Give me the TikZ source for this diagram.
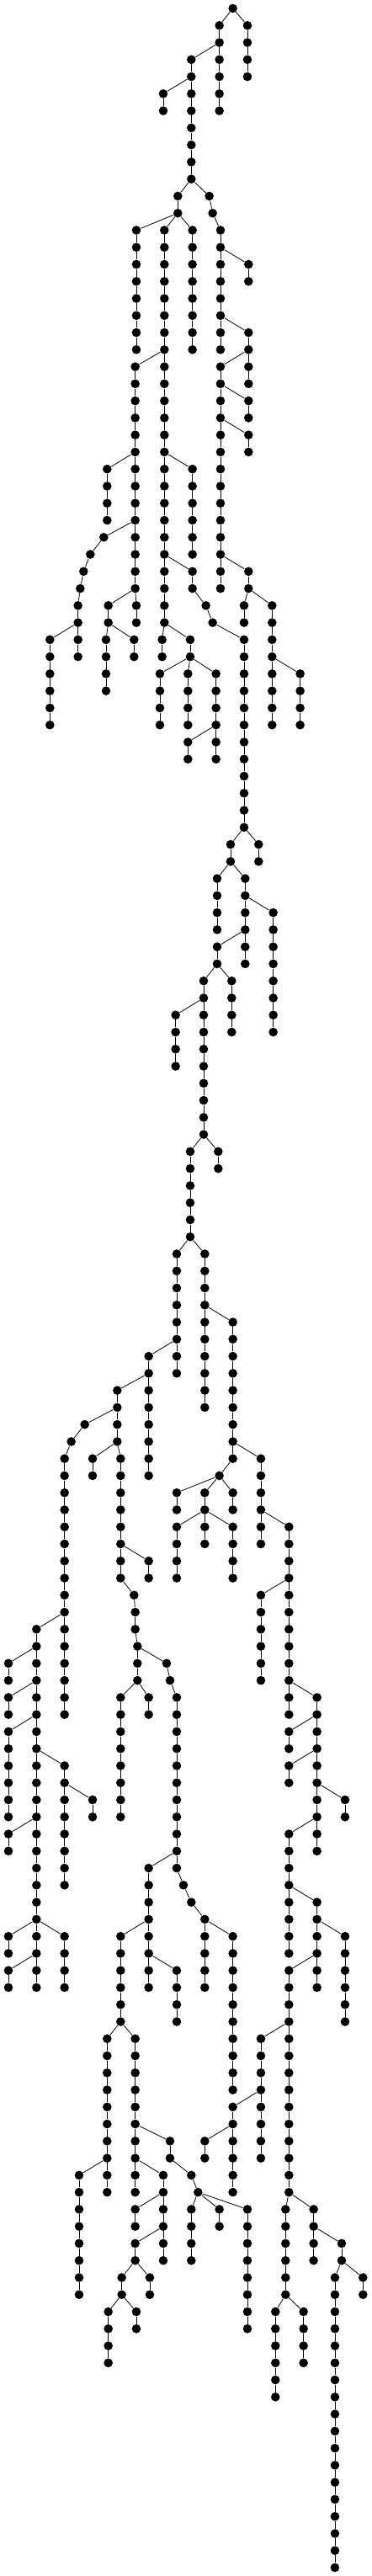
\documentclass[tikz,border=0pt]{standalone}
\usepackage{tikz}

% a vertical run of nodes #1-#3 ... #1-#4 at x=#2, hung from node #5
\newcommand{\vstem}[5]{%
	\foreach \lv in {#3,...,#4}{
		\node[t-node] (#1-\lv) at (#2,\lv) {};
	}
	\draw (#5) -- (#1-#3);
	\foreach \lv in {#3,...,#4}{
		\ifnum\lv>#3 \pgfmathtruncatemacro\up{\lv-1}\draw (#1-\up) -- (#1-\lv);\fi
	}
}

\begin{document}
\begin{tikzpicture}[x=0.3333pt,y=-20.2667pt,line width=0.8pt]
	\tikzstyle{t-node}=[circle,fill=black,draw=none,inner sep=0pt,minimum size=10.6pt]
	\useasboundingbox (0,-0.4934) rectangle (1326,150.4934);

	% top
	\node[t-node] (root) at (830,0) {};
	\vstem{s1}{782}{1}{6}{root}
	\vstem{s2}{882}{1}{4}{root}
	\vstem{s3}{682}{3}{10}{s1-2}
	\vstem{s4}{582}{5}{6}{s3-4}
	\vstem{s5}{634}{11}{12}{s3-10}
	\vstem{s6}{746}{11}{11}{s3-10}
	\vstem{s7}{758}{12}{12}{s6-11}
	\vstem{s8}{486}{13}{20}{s5-12}
	\vstem{s9}{586}{13}{36}{s5-12}
	\vstem{s10}{686}{13}{20}{s5-12}
	\vstem{s11}{786}{13}{20}{s7-12}
	\vstem{s12}{886}{15}{16}{s11-14}
	\vstem{s13}{886}{19}{22}{s11-18}
	\vstem{s14}{482}{21}{34}{s9-20}
	\vstem{s15}{786}{21}{34}{s13-20}
	\vstem{s16}{886}{23}{24}{s15-22}
	\vstem{s17}{886}{25}{26}{s15-24}
	\vstem{s18}{382}{27}{30}{s14-26}
	\vstem{s19}{686}{27}{32}{s9-26}
	\vstem{s20}{370}{31}{31}{s14-30}
	\vstem{s21}{322}{32}{32}{s20-31}
	\vstem{s22}{298}{33}{33}{s21-32}
	\vstem{s23}{286}{34}{34}{s22-33}
	\vstem{s24}{278}{35}{36}{s23-34}
	\vstem{s25}{686}{33}{34}{s9-32}
	\vstem{s26}{886}{33}{34}{s15-32}
	\vstem{s27}{386}{35}{36}{s14-34}
	\vstem{s28}{486}{35}{36}{s14-34}
	\vstem{s29}{734}{35}{35}{s25-34}
	\vstem{s30}{758}{36}{36}{s29-35}
	\vstem{s31}{870}{35}{36}{s26-34}
	\vstem{s32}{970}{35}{42}{s26-34}
	\vstem{s33}{178}{37}{42}{s24-36}
	\vstem{s34}{278}{37}{38}{s24-36}
	\vstem{s35}{378}{37}{40}{s27-36}
	\vstem{s36}{478}{37}{38}{s27-36}
	\vstem{s37}{578}{37}{38}{s9-36}
	\vstem{s38}{678}{37}{38}{s9-36}
	\vstem{s39}{870}{37}{48}{s30-36}
	\vstem{s40}{1070}{39}{42}{s32-38}
	\vstem{s41}{570}{39}{42}{s38-38}
	\vstem{s42}{670}{39}{42}{s38-38}
	\vstem{s43}{770}{39}{44}{s38-38}
	\vstem{s44}{670}{43}{44}{s43-42}

	% middle
	\vstem{s45}{822}{49}{50}{s39-48}
	\vstem{s46}{922}{49}{50}{s39-48}
	\vstem{s47}{774}{51}{54}{s45-50}
	\vstem{s48}{874}{51}{56}{s45-50}
	\vstem{s49}{974}{53}{60}{s48-52}
	\vstem{s50}{774}{55}{56}{s48-54}
	\vstem{s51}{726}{57}{66}{s50-56}
	\vstem{s52}{826}{57}{60}{s50-56}
	\vstem{s53}{626}{59}{62}{s51-58}
	\vstem{s54}{678}{67}{72}{s51-66}
	\vstem{s55}{778}{67}{68}{s51-66}
	\vstem{s56}{630}{73}{80}{s54-72}
	\vstem{s57}{730}{73}{82}{s54-72}
	\vstem{s58}{830}{77}{85}{s57-76}
	\vstem{s59}{530}{79}{86}{s56-78}
	\vstem{s60}{418}{81}{84}{s59-80}
	\vstem{s61}{302}{83}{83}{s60-82}
	\vstem{s62}{254}{84}{84}{s61-83}
	\vstem{s63}{230}{85}{100}{s62-84}
	\vstem{s64}{330}{85}{86}{s60-84}
	\vstem{s65}{430}{85}{92}{s60-84}
	\vstem{s66}{930}{85}{90}{s58-84}
	\vstem{s67}{782}{86}{86}{s58-85}
	\vstem{s68}{630}{87}{88}{s67-86}
	\vstem{s69}{730}{87}{88}{s67-86}
	\vstem{s70}{830}{87}{88}{s67-86}
	\vstem{s71}{630}{89}{92}{s69-88}
	\vstem{s72}{730}{89}{90}{s69-88}
	\vstem{s73}{830}{89}{92}{s69-88}
	\vstem{s74}{1030}{89}{100}{s66-88}
	\vstem{s75}{530}{91}{92}{s65-90}
	\vstem{s76}{478}{93}{93}{s65-92}
	\vstem{s77}{482}{94}{95}{s76-93}
	\vstem{s78}{490}{96}{98}{s77-95}
	\vstem{s79}{930}{93}{98}{s74-92}

	% lower part
	\vstem{s80}{130}{95}{116}{s63-94}
	\vstem{s81}{594}{97}{97}{s78-96}
	\vstem{s82}{606}{98}{98}{s81-97}
	\vstem{s83}{30}{97}{98}{s80-96}
	\vstem{s84}{30}{99}{100}{s80-98}
	\vstem{s85}{430}{99}{106}{s78-98}
	\vstem{s86}{530}{99}{100}{s78-98}
	\vstem{s87}{630}{99}{109}{s82-98}
	\vstem{s88}{1130}{99}{108}{s74-98}
	\vstem{s89}{30}{101}{106}{s80-100}
	\vstem{s90}{1030}{101}{102}{s88-100}
	\vstem{s91}{230}{103}{110}{s80-102}
	\vstem{s92}{1030}{103}{104}{s88-102}
	\vstem{s93}{330}{105}{106}{s91-104}
	\vstem{s94}{1230}{105}{106}{s88-104}
	\vstem{s95}{30}{107}{108}{s80-106}
	\vstem{s96}{1030}{107}{114}{s88-106}
	\vstem{s97}{530}{109}{116}{s87-108}
	\vstem{s98}{654}{110}{110}{s87-109}
	\vstem{s99}{682}{111}{111}{s98-110}
	\vstem{s100}{1130}{111}{116}{s96-110}
	\vstem{s101}{730}{112}{116}{s99-111}
	\vstem{s102}{30}{113}{114}{s80-112}
	\vstem{s103}{230}{113}{116}{s80-112}
	\vstem{s104}{430}{113}{118}{s97-112}
	\vstem{s105}{830}{113}{122}{s101-112}
	\vstem{s106}{1230}{113}{118}{s100-112}
	\vstem{s107}{30}{115}{116}{s80-114}
	\vstem{s108}{630}{115}{118}{s97-114}
	\vstem{s109}{1030}{115}{128}{s100-114}
	\vstem{s110}{382}{119}{128}{s104-118}
	\vstem{s111}{482}{119}{128}{s104-118}
	\vstem{s112}{930}{119}{126}{s109-118}
	\vstem{s113}{830}{123}{128}{s112-122}
	\vstem{s114}{606}{125}{126}{s111-124}
	\vstem{s115}{730}{125}{126}{s113-124}
	\vstem{s116}{282}{127}{134}{s110-126}
	\vstem{s117}{582}{127}{132}{s111-126}
	\vstem{s118}{682}{127}{127}{s114-126}
	\vstem{s119}{706}{128}{128}{s118-127}
	\vstem{s120}{482}{129}{130}{s117-128}
	\vstem{s121}{682}{129}{132}{s119-128}
	\vstem{s122}{782}{129}{130}{s119-128}
	\vstem{s123}{882}{129}{136}{s119-128}
	\vstem{s124}{1018}{129}{134}{s109-128}
	\vstem{s125}{1118}{129}{132}{s109-128}
	\vstem{s126}{482}{131}{132}{s117-130}
	\vstem{s127}{1218}{131}{132}{s125-130}
	\vstem{s128}{434}{133}{134}{s126-132}
	\vstem{s129}{534}{133}{134}{s126-132}
	\vstem{s130}{1194}{133}{150}{s127-132}
	\vstem{s131}{1294}{133}{134}{s127-132}
	\vstem{s132}{386}{135}{138}{s128-134}
	\vstem{s133}{486}{135}{136}{s128-134}
	\vstem{s134}{982}{135}{140}{s124-134}
	\vstem{s135}{1082}{135}{138}{s124-134}
\end{tikzpicture}
\end{document}
